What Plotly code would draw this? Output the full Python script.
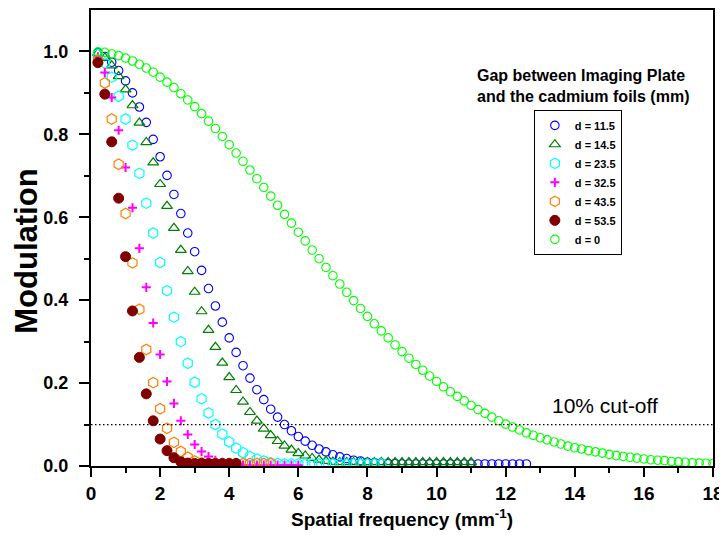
import plotly.graph_objects as go

# Spatial frequency grid (mm^-1)
freq = [0.2, 0.4, 0.6, 0.8, 1.0, 1.2, 1.4, 1.6, 1.8, 2.0,
        2.2, 2.4, 2.6, 2.8, 3.0, 3.2, 3.4, 3.6, 3.8, 4.0,
        4.2, 4.4, 4.6, 4.8, 5.0, 5.2, 5.4, 5.6, 5.8, 6.0,
        6.2, 6.4, 6.6, 6.8, 7.0, 7.2, 7.4, 7.6, 7.8, 8.0,
        8.2, 8.4, 8.6, 8.8, 9.0, 9.2, 9.4, 9.6, 9.8, 10.0,
        10.2, 10.4, 10.6, 10.8, 11.0, 11.2, 11.4, 11.6, 11.8, 12.0,
        12.2, 12.4, 12.6, 12.8, 13.0, 13.2, 13.4, 13.6, 13.8, 14.0,
        14.2, 14.4, 14.6, 14.8, 15.0, 15.2, 15.4, 15.6, 15.8, 16.0,
        16.2, 16.4, 16.6, 16.8, 17.0, 17.2, 17.4, 17.6, 17.8, 18.0]

mod_d11_5 = [0.997, 0.988, 0.974, 0.954, 0.929, 0.900, 0.866, 0.829, 0.788, 0.746,
             0.701, 0.655, 0.609, 0.562, 0.517, 0.472, 0.428, 0.386, 0.347, 0.309,
             0.274, 0.242, 0.212, 0.184, 0.160, 0.137, 0.118, 0.100, 0.085, 0.071,
             0.060, 0.050, 0.041, 0.034, 0.027, 0.022, 0.018, 0.014, 0.012, 0.009,
             0.008, 0.007, 0.006, 0.006, 0.005, 0.005, 0.005, 0.005, 0.005, 0.005,
             0.005, 0.005, 0.005, 0.005, 0.005, 0.005, 0.005, 0.005, 0.005, 0.005,
             0.005, 0.005, 0.005]

mod_d14_5 = [0.996, 0.985, 0.966, 0.940, 0.908, 0.870, 0.828, 0.781, 0.732, 0.680,
             0.627, 0.574, 0.521, 0.470, 0.420, 0.373, 0.328, 0.287, 0.249, 0.214,
             0.183, 0.155, 0.130, 0.109, 0.090, 0.074, 0.060, 0.049, 0.039, 0.031,
             0.025, 0.019, 0.015, 0.012, 0.010, 0.009, 0.009, 0.009, 0.009, 0.009,
             0.009, 0.009, 0.009, 0.009, 0.009, 0.009, 0.009, 0.009, 0.009, 0.009,
             0.009, 0.009, 0.009, 0.009, 0.009]

mod_d23_5 = [0.993, 0.972, 0.938, 0.892, 0.837, 0.774, 0.706, 0.634, 0.562, 0.491,
             0.423, 0.359, 0.300, 0.248, 0.202, 0.162, 0.128, 0.100, 0.077, 0.058,
             0.043, 0.032, 0.023, 0.017, 0.012, 0.008, 0.006, 0.005, 0.005, 0.005,
             0.005, 0.005, 0.005, 0.005, 0.005, 0.005, 0.005, 0.005, 0.005, 0.005,
             0.005, 0.005]

mod_d32_5 = [0.987, 0.949, 0.889, 0.810, 0.720, 0.623, 0.525, 0.431, 0.345, 0.269,
             0.204, 0.151, 0.109, 0.076, 0.052, 0.035, 0.023, 0.014, 0.009, 0.005,
             0.002, 0.002, 0.002, 0.002, 0.002, 0.002, 0.002, 0.002, 0.002, 0.002]

mod_d43_5 = [0.980, 0.924, 0.837, 0.728, 0.609, 0.490, 0.378, 0.281, 0.201, 0.138,
             0.091, 0.057, 0.035, 0.021, 0.012, 0.008, 0.006, 0.006, 0.006, 0.006,
             0.006, 0.006, 0.006, 0.006, 0.006, 0.006]

mod_d53_5 = [0.973, 0.897, 0.782, 0.646, 0.505, 0.374, 0.262, 0.174, 0.109, 0.065,
             0.037, 0.020, 0.010, 0.007, 0.006, 0.006, 0.006, 0.006, 0.006, 0.006,
             0.006]

mod_d0 = [0.999, 0.998, 0.994, 0.990, 0.984, 0.977, 0.969, 0.960, 0.950, 0.938,
          0.926, 0.913, 0.898, 0.883, 0.867, 0.850, 0.832, 0.814, 0.795, 0.775,
          0.755, 0.735, 0.714, 0.693, 0.672, 0.651, 0.629, 0.607, 0.586, 0.564,
          0.543, 0.521, 0.500, 0.479, 0.459, 0.439, 0.419, 0.399, 0.380, 0.361,
          0.343, 0.326, 0.309, 0.292, 0.276, 0.260, 0.245, 0.231, 0.217, 0.204,
          0.191, 0.179, 0.168, 0.157, 0.146, 0.136, 0.127, 0.118, 0.109, 0.101,
          0.094, 0.087, 0.080, 0.074, 0.068, 0.063, 0.058, 0.053, 0.048, 0.044,
          0.041, 0.037, 0.034, 0.031, 0.028, 0.025, 0.023, 0.021, 0.019, 0.017,
          0.015, 0.014, 0.013, 0.011, 0.010, 0.009, 0.008, 0.007, 0.0065, 0.006]

cutoff = 0.1
cutoff_label = "10% cut-off"
legend_title = "Gap between Imaging Plate<br>and the cadmium foils (mm)"
y_title = "Modulation"
x_title = "Spatial frequency (mm<sup>-1</sup>)"

FONT = "Liberation Sans, Arial, Helvetica, sans-serif"

series = [
    ("d = 11.5", mod_d11_5, "circle-open", "#0000FF", 8.5, 1.1),
    ("d = 14.5", mod_d14_5, "triangle-up-open", "#008000", 9.5, 1.2),
    ("d = 23.5", mod_d23_5, "hexagon-open", "#00FFFF", 10.5, 1.2),
    ("d = 32.5", mod_d32_5, "cross-thin-open", "#FF00FF", 6.5, 2),
    ("d = 43.5", mod_d43_5, "hexagon-open", "#FF8000", 10.5, 1.2),
    ("d = 53.5", mod_d53_5, "circle", "#800000", 10, 1),
    ("d = 0", mod_d0, "circle-open", "#00FF00", 8.5, 1.1),
]

fig = go.Figure()
for name, vals, sym, col, size, lw in series:
    fig.add_trace(go.Scatter(
        x=freq[:len(vals)], y=vals, mode="markers", name=name,
        marker=dict(symbol=sym, size=size, color=col,
                    line=dict(color=col, width=lw)),
    ))

fig.add_shape(type="line", xref="paper", x0=0, x1=1, yref="y", y0=cutoff, y1=cutoff,
              line=dict(color="black", width=1.3, dash="1.5px,2.5px"), layer="above")

fig.add_annotation(x=14.87, y=0.145, xref="x", yref="y", text=cutoff_label,
                   showarrow=False, font=dict(family=FONT, size=21, color="black"))

fig.add_annotation(x=0.6175, y=0.879, xref="paper", yref="paper", text=legend_title,
                   showarrow=False, xanchor="left", yanchor="top", align="left",
                   font=dict(family=FONT, size=16, color="black", weight="bold"))

# y-axis title placed as rotated text left of the tick labels
fig.add_annotation(x=-0.103, y=0.472, xref="paper", yref="paper", text=y_title,
                   showarrow=False, textangle=-90, xanchor="center", yanchor="middle",
                   font=dict(family=FONT, size=31, color="black", weight="bold"))

# The page body adds an 8px offset; figure size/margins compensate for it.
fig.update_layout(
    width=719, height=528,
    margin=dict(l=83, r=14, t=2, b=70),
    paper_bgcolor="white", plot_bgcolor="white",
    font=dict(family=FONT, color="black"),
    showlegend=True,
    legend=dict(x=0.712, y=0.781, xanchor="left", yanchor="top",
                bordercolor="black", borderwidth=1, bgcolor="white",
                font=dict(family=FONT, size=11, color="black", weight="bold"),
                itemwidth=30, tracegroupgap=0),
)

fig.update_xaxes(
    range=[0, 18], tick0=0, dtick=2, showgrid=False, zeroline=False, automargin=False,
    showline=True, linecolor="black", linewidth=2, mirror=True,
    ticks="outside", ticklen=9, tickwidth=2, tickcolor="black",
    tickfont=dict(family=FONT, size=19, color="black", weight="bold"),
    minor=dict(dtick=1, ticks="outside", ticklen=5, tickwidth=2, tickcolor="black"),
    title=dict(text=x_title, standoff=10,
               font=dict(family=FONT, size=19, color="black", weight="bold")),
)
fig.update_yaxes(
    range=[0, 1.1], tick0=0, dtick=0.2, tickformat=".1f", showgrid=False, zeroline=False,
    automargin=False,
    showline=True, linecolor="black", linewidth=2, mirror=True,
    ticks="outside", ticklen=10, tickwidth=2, tickcolor="black", ticklabelstandoff=7,
    tickfont=dict(family=FONT, size=18, color="black", weight="bold"),
    minor=dict(tickvals=[0.1, 0.3, 0.5, 0.7, 0.9], ticks="outside", ticklen=5,
               tickwidth=2, tickcolor="black"),
)

fig.write_html("out.html")
